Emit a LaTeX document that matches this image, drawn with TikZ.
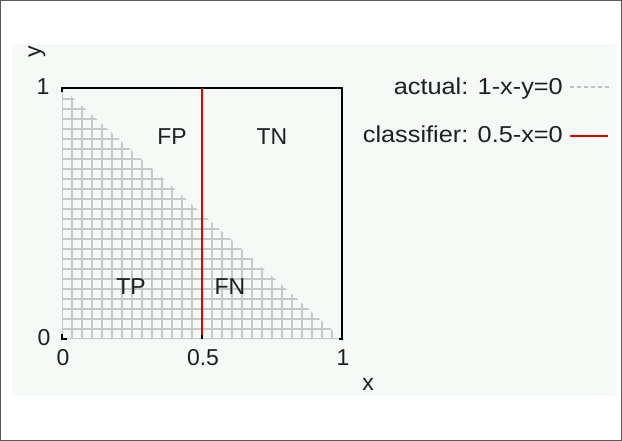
\documentclass[tikz,border=0pt]{standalone}
\usepackage{fontspec}
\setmainfont{Liberation Sans}
\newfontfamily\legendfont{Liberation Sans}[FakeStretch=1.1]
\definecolor{panelbg}{RGB}{246,250,246}
\definecolor{gridgray}{RGB}{200,200,200}
\begin{document}
\begin{tikzpicture}[x=1pt,y=-1pt,
  lbl/.style={inner sep=0pt,font=\fontsize{23}{23}\selectfont,text=black!88},
  leg/.style={inner sep=0pt,font=\legendfont\fontsize{23}{23}\selectfont,text=black!88},
  gridline/.style={draw=gridgray,line width=1.6pt},
  frameline/.style={draw=black,line width=1.8pt},
  redline/.style={draw=red!90!black,line width=1.8pt},
  dashline/.style={draw=black!25,line width=1.4pt,dash pattern=on 4pt off 3pt}]
\useasboundingbox (0,0) rectangle (622,441);
% outer frame and panel
\draw[black!65,line width=1pt] (0.5,0.5) rectangle (621.5,440.5);
\fill[panelbg] (12,44) rectangle (617,396);
% hatched region (actual positives)
\begin{scope}
  \clip (62,88) -- (62,339) -- (342,339) -- cycle;
  \foreach \i in {0,...,28} {\draw[gridline] (62+10*\i,339) -- (62+10*\i,86);}
  \foreach \j in {0,...,25} {\draw[gridline] (60,339-10*\j) -- (344,339-10*\j);}
\end{scope}
% plot frame
\draw[frameline] (62,92) -- (62,88) -- (342,88) -- (342,339) -- (339,339);
\draw[black,line width=1.6pt] (62,334) -- (62,339) -- (67,339);
% classifier boundary
\coordinate (ctop) at (202,88);
\coordinate (cbot) at (202,335);
\coordinate (cend) at (202,339);
\draw[redline] (ctop) -- (cbot);
\draw[black,line width=1.6pt] (cbot) -- (cend);
% axis labels
\node[lbl,rotate=90] (ylab) at (37,52) {y};
\node[lbl] (y1) at (43,87) {1};
\node[lbl] (y0) at (44,338) {0};
\node[lbl] (x0) at (63,358) {0};
\node[lbl] (x05) at (203,358) {0.5};
\node[lbl] (x1) at (343,358) {1};
\node[lbl] (xlab) at (368,384) {x};
% region labels
\node[lbl] (fp) at (172,137) {FP};
\node[lbl] (tn) at (272,137) {TN};
\node[lbl] (tp) at (131,287) {TP};
\node[lbl] (fn) at (230,287) {FN};
% legend
\node[leg,anchor=east] (la) at (563,89) {actual: 1-x-y=0};
\node[leg,anchor=east] (lc) at (563,134) {classifier: 0.5-x=0};
\coordinate (la1) at (570,87);
\coordinate (la2) at (611,87);
\coordinate (lc1) at (570,136);
\coordinate (lc2) at (608,136);
\draw[dashline] (la1) -- (la2);
\draw[redline] (lc1) -- (lc2);
\end{tikzpicture}
\end{document}
